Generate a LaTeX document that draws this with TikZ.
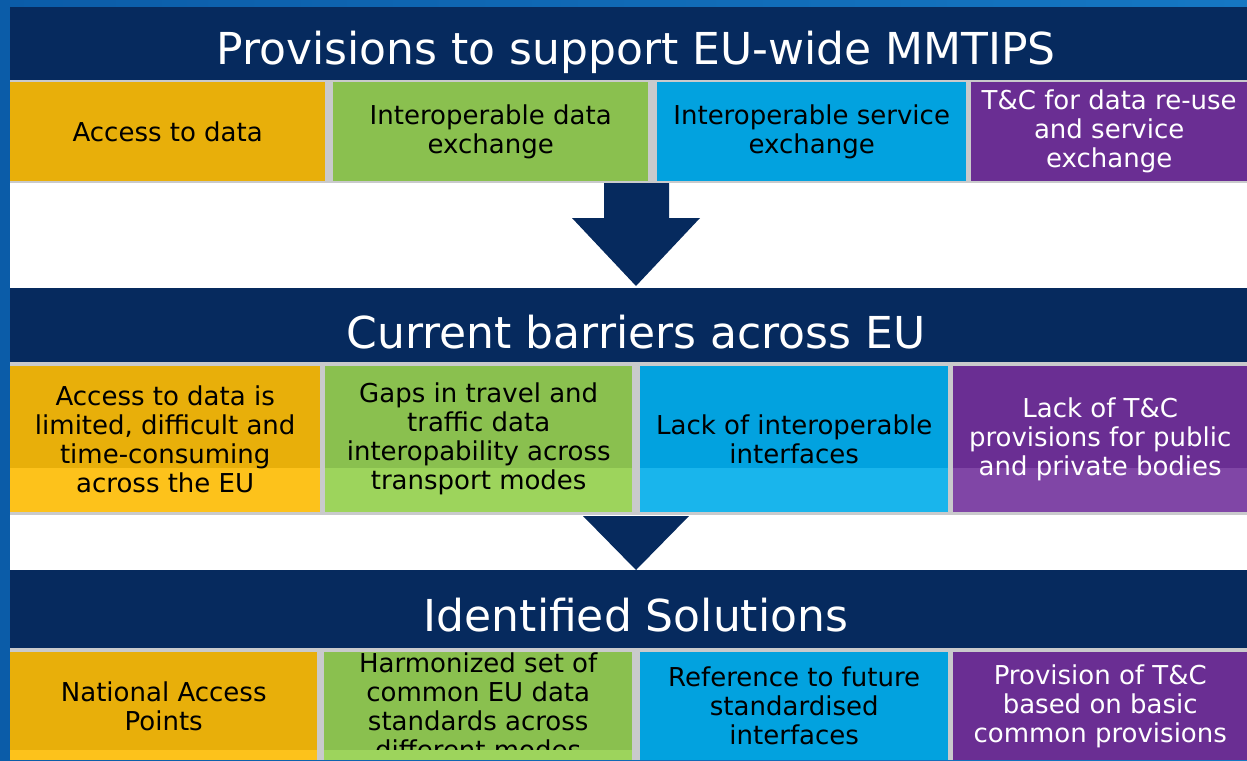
\documentclass[tikz,border=0pt]{standalone}
\usepackage{fontspec}
\setmainfont{DejaVu Sans}
\usetikzlibrary{positioning}

\definecolor{navy}{HTML}{062A5E}
\definecolor{gap}{HTML}{C9CACC}
\definecolor{bgdark}{HTML}{0B5CA8}
\definecolor{bglight}{HTML}{1577C3}
\definecolor{ylw}{HTML}{E8AF0A}
\definecolor{ylwlt}{HTML}{FDC21B}
\definecolor{grn}{HTML}{8AC04F}
\definecolor{grnlt}{HTML}{9DD45C}
\definecolor{blu}{HTML}{02A2DF}
\definecolor{blult}{HTML}{19B5EC}
\definecolor{prp}{HTML}{6A2E93}
\definecolor{prplt}{HTML}{8046A6}

\tikzset{
  banner/.style = {fill = navy, anchor = north west, inner sep = 0pt,
    minimum width = 1237pt},
  title/.style = {text = white, anchor = base, inner sep = 0pt,
    font = \fontsize{44}{50}\selectfont},
  cell/.style = {anchor = north west, inner sep = 0pt, align = center,
    font = \fontsize{26}{29}\selectfont},
  lower/.style = {path picture = {\fill[#1] ([yshift=44pt]path picture bounding box.south west)
    rectangle (path picture bounding box.south east);}},
  light/.style = {text = white}
}

\begin{document}
\begin{tikzpicture}[x=1pt,y=-1pt]
  \useasboundingbox (0,0) rectangle (1247,760);
  \shade[left color = bgdark, right color = bglight] (0,0) rectangle (1247,760);
  \fill[white] (10,181) rectangle (1247,290);
  \fill[white] (10,512) rectangle (1247,572);

  % provisions
  \node[banner, minimum height = 74pt] (ban1) at (10,7) {};
  \node[title] (tit1) at (636,65) {Provisions to support EU-wide MMTIPS};
  \fill[gap] (10,80) rectangle (1247,183);
  \node[cell, fill = ylw, minimum width = 315pt, minimum height = 99pt] (p1) at (10,82) {Access to data};
  \node[cell, fill = grn, minimum width = 315pt, minimum height = 99pt] (p2) at (333,82) {Interoperable data\\exchange};
  \node[cell, fill = blu, minimum width = 309pt, minimum height = 99pt] (p3) at (657,82) {Interoperable service\\exchange};
  \node[cell, light, fill = prp, minimum width = 276pt, minimum height = 99pt] (p4) at (971,82) {T\&C for data re-use\\and service\\exchange};

  \fill[navy] (604,183) -- (669,183) -- (669,218) -- (700,218) -- (636,286)
    -- (572,218) -- (604,218) -- cycle;

  % barriers
  \node[banner, minimum height = 74pt] (ban2) at (10,288) {};
  \node[title] (tit2) at (636,348) {Current barriers across EU};
  \fill[gap] (10,362) rectangle (1247,515);
  \node[cell, fill = ylw, lower = ylwlt, minimum width = 310pt, minimum height = 146pt] (b1) at (10,366)
    {Access to data is\\limited, difficult and\\time-consuming\\across the EU};
  \node[cell, fill = grn, lower = grnlt, minimum width = 307pt, minimum height = 146pt] (b2) at (325,366)
    {Gaps in travel and\\traffic data\\interopability across\\transport modes};
  \node[cell, fill = blu, lower = blult, minimum width = 308pt, minimum height = 146pt] (b3) at (640,366)
    {Lack of interoperable\\interfaces};
  \node[cell, light, fill = prp, lower = prplt, minimum width = 294pt, minimum height = 146pt] (b4) at (953,366)
    {Lack of T\&C\\provisions for public\\and private bodies};

  \fill[navy] (583,516) -- (689,516) -- (636,570) -- cycle;

  % solutions
  \node[banner, minimum height = 78pt] (ban3) at (10,570) {};
  \node[title] (tit3) at (636,631) {Identified Solutions};
  \fill[gap] (10,648) rectangle (1247,760);
  \node[cell, fill = ylw, minimum width = 307pt, minimum height = 108pt] (s1) at (10,652)
    {National Access\\Points};
  \node[cell, fill = grn, minimum width = 308pt, minimum height = 108pt] (s2) at (324,652)
    {Harmonized set of\\common EU data\\standards across\\different modes};
  \node[cell, fill = blu, minimum width = 308pt, minimum height = 108pt] (s3) at (640,652)
    {Reference to future\\standardised\\interfaces};
  \node[cell, light, fill = prp, minimum width = 294pt, minimum height = 108pt] (s4) at (953,652)
    {Provision of T\&C\\based on basic\\common provisions};
  \fill[ylwlt] (10,750) rectangle (317,760);
  \fill[grnlt] (324,750) rectangle (632,760);
\end{tikzpicture}
\end{document}
